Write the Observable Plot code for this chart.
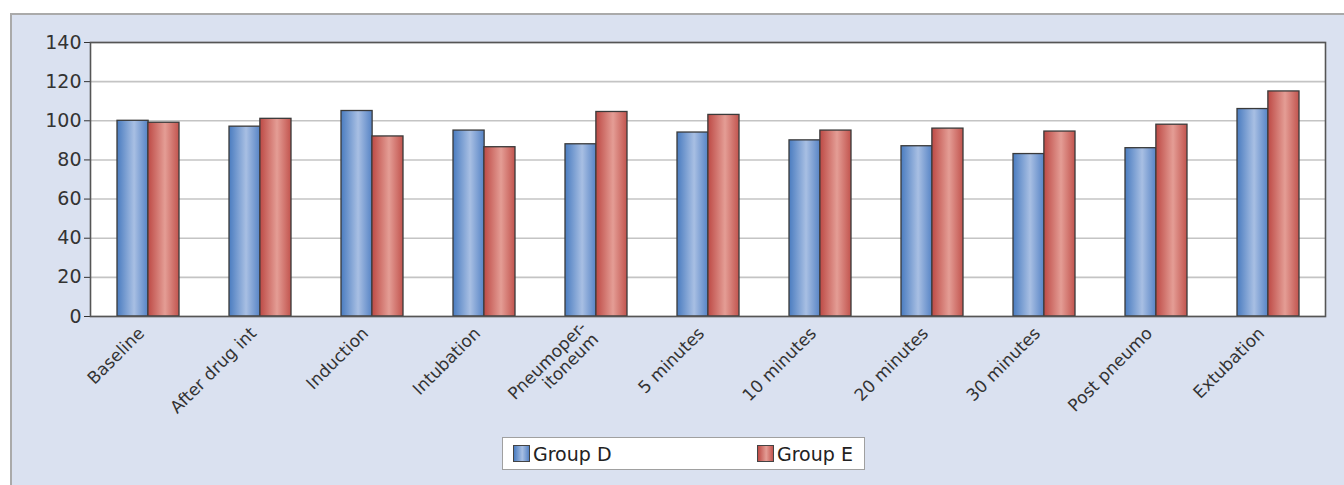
<!DOCTYPE html>
<html><head><meta charset="utf-8">
<script src="https://cdn.jsdelivr.net/npm/d3@7"></script>
<script src="https://cdn.jsdelivr.net/npm/@observablehq/plot@0.6"></script>
<style>
body{margin:0;background:#fff;width:1344px;height:485px;overflow:hidden;position:relative;font-family:"DejaVu Sans",sans-serif;}
#panel{position:absolute;left:10px;top:13px;width:1340px;height:480px;background:#dae1f0;border-left:2px solid #aaaaaa;border-top:2px solid #aaaaaa;}
#chart{position:absolute;left:0;top:0;}
#legend{position:absolute;left:502px;top:437px;width:363px;height:33px;background:#fff;border:1px solid #a0a0a0;box-sizing:border-box;font-size:19px;color:#222;}
.item{position:absolute;top:0;height:31px;display:flex;align-items:center;}
.sw{width:17px;height:17px;border:1px solid #444;margin-right:3px;box-sizing:border-box;}
</style></head>
<body>
<div id="panel"></div>
<div id="chart"></div>
<div id="legend">
  <div class="item" style="left:10px"><div class="sw" style="background:linear-gradient(90deg,#4a7cc0,#a8bfe3 55%,#5683c5)"></div>Group D</div>
  <div class="item" style="left:254px"><div class="sw" style="background:linear-gradient(90deg,#bd4a45,#e49d95 55%,#c2544e)"></div>Group E</div>
</div>
<script>
const categories = ["Baseline","After drug int","Induction","Intubation","Pneumoper-\nitoneum","5 minutes","10 minutes","20 minutes","30 minutes","Post pneumo","Extubation"];
const groupD = [100,97,105,95,88,94,90,87,83,86,106];
const groupE = [99,101,92,86.5,104.5,103,95,96,94.5,98,115];
const yTicks = [0,20,40,60,80,100,120,140];

const dataD = categories.map((c,i)=>({cat:c, v:groupD[i]}));
const dataE = categories.map((c,i)=>({cat:c, v:groupE[i]}));

const width = 1344, height = 420, ml = 90, mr = 19, mt = 42, mb = 104;
const pIn = 0.45, pOut = 0.225;
const step = (width - ml - mr) / (categories.length - pIn + 2*pOut);
const half = step*(1-pIn)/2;

const svg = Plot.plot({
  width, height, marginLeft: ml, marginRight: mr, marginTop: mt, marginBottom: mb,
  style: {fontSize:"17px", fontFamily:"'DejaVu Sans',sans-serif", color:"#333", background:"transparent", overflow:"visible"},
  x: {domain: categories, paddingInner: pIn, paddingOuter: pOut, label: null, tickSize: 0, tickPadding: 9, tickRotate: -45},
  y: {domain: [0,140], ticks: yTicks, label: null, tickSize: 6, tickPadding: 3},
  marks: [
    Plot.frame({fill:"white", stroke:"none"}),
    Plot.ruleY(yTicks, {stroke:"#c4c4c4", strokeWidth:1.6}),
    Plot.barY(dataD, {x:"cat", y:"v", fill:"url(#gD)", stroke:"#3a3a3a", strokeWidth:1.3, insetRight: half}),
    Plot.barY(dataE, {x:"cat", y:"v", fill:"url(#gE)", stroke:"#3a3a3a", strokeWidth:1.3, insetLeft: half}),
    Plot.frame({stroke:"#555", strokeWidth:1.6})
  ]
});
const defs = d3.select(svg).insert("defs", ":first-child");
function grad(id, stops){
  const g = defs.append("linearGradient").attr("id", id).attr("x1",0).attr("x2",1).attr("y1",0).attr("y2",0);
  stops.forEach(([o,c])=>g.append("stop").attr("offset",o).attr("stop-color",c));
}
grad("gD", [[0,"#4a7cc0"],[0.55,"#a8bfe3"],[1,"#5683c5"]]);
grad("gE", [[0,"#bd4a45"],[0.55,"#e49d95"],[1,"#c2544e"]]);
d3.select(svg).selectAll('[aria-label^="y-axis"]').style("font-size","19px");
d3.select(svg).selectAll('g[aria-label^="x-axis"]').each(function(){
  const g = d3.select(this);
  g.attr("transform", `translate(-7,5) ${g.attr("transform") || ""}`);
});
document.getElementById("chart").appendChild(svg);
</script>
</body></html>
